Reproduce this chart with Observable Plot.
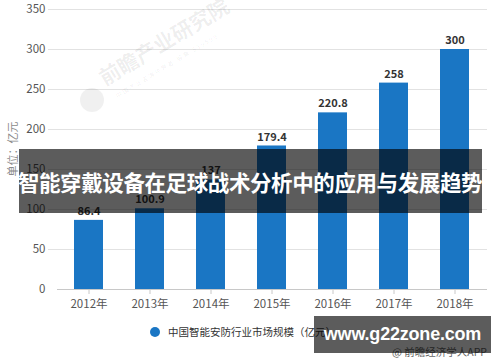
<!DOCTYPE html>
<html>
<head>
<meta charset="utf-8">
<script src="https://cdn.jsdelivr.net/npm/d3@7"></script>
<script src="https://cdn.jsdelivr.net/npm/@observablehq/plot@0.6"></script>
<style>
  html, body { margin: 0; padding: 0; background: #fff; }
  #wrap { position: relative; width: 500px; height: 362px; overflow: hidden; font-family: "Noto Sans CJK SC", "Noto Sans", sans-serif; }
  #chart svg { display: block; }
  .ylab { position: absolute; left: 12px; top: 149px; transform: translate(-50%, -50%) rotate(-90deg); font-size: 11px; color: #8a8a8a; white-space: nowrap; }
  .legend { position: absolute; left: 150px; top: 324px; font-size: 10.5px; color: #333; display: flex; align-items: center; white-space: nowrap; }
  .legend .dot { width: 10px; height: 10px; border-radius: 50%; background: #1a76c4; margin-right: 8px; }
  .band { position: absolute; left: 19px; top: 149px; width: 463px; height: 64px; background: rgba(0,0,0,0.64); }
  .title { position: absolute; left: 0; width: 500px; top: 167px; text-align: center; color: #fff; font-weight: bold; font-size: 21.5px; line-height: 30px; white-space: nowrap; letter-spacing: -0.4px; }
  .src { position: absolute; left: 392px; top: 344px; font-size: 10.5px; color: #666; white-space: nowrap; }
  .wm { position: absolute; left: 314px; top: 316px; width: 177px; height: 37px; background: rgba(0,0,0,0.64); color: #fff; font-weight: bold; font-size: 18px; line-height: 37px; text-align: center; font-family: "Liberation Sans", Arial, sans-serif; letter-spacing: -0.2px; }
  .logo { position: absolute; left: 106px; top: 66px; transform: rotate(-31deg); transform-origin: left bottom; font-size: 21px; font-weight: bold; color: rgba(0,0,0,0.07); white-space: nowrap; line-height: 22px; }
  .logo2 { position: absolute; left: 118px; top: 92px; transform: rotate(-31deg); transform-origin: left bottom; font-size: 6px; color: rgba(0,0,0,0.07); white-space: nowrap; line-height: 7px; letter-spacing: 1.5px; }
  .logodot { position: absolute; left: 80px; top: 88px; width: 24px; height: 24px; border-radius: 50%; background: rgba(0,0,0,0.06); }
</style>
</head>
<body>
<div id="wrap">
  <div id="chart"></div>
  <div class="logodot"></div>
  <div class="logo">前瞻产业研究院</div>
  <div class="logo2">中国产业咨询领导者(股票:839599)</div>
  <div class="ylab">单位：亿元</div>
  <div class="legend"><span class="dot"></span><span id="legtext"></span></div>
  <div class="band"></div>
  <div class="title" id="title"></div>
  <div class="src">@ 前瞻经济学人APP</div>
  <div class="wm">www.g22zone.com</div>
</div>
<script>
const years = ["2012年", "2013年", "2014年", "2015年", "2016年", "2017年", "2018年"];
const values = [86.4, 100.9, 137, 179.4, 220.8, 258, 300];
const labels = ["86.4", "100.9", "137", "179.4", "220.8", "258", "300"];
const yTicks = [0, 50, 100, 150, 200, 250, 300, 350];
const seriesName = "中国智能安防行业市场规模（亿元）";
const titleText = "智能穿戴设备在足球战术分析中的应用与发展趋势";

const data = years.map((y, i) => ({ year: y, value: values[i], label: labels[i] }));

document.getElementById("legtext").textContent = seriesName;
document.getElementById("title").textContent = titleText;

const chart = Plot.plot({
  width: 500,
  height: 362,
  marginTop: 9,
  marginBottom: 73,
  marginLeft: 57,
  marginRight: 15,
  style: { fontFamily: "Noto Sans CJK SC, Noto Sans, sans-serif", fontSize: "11px", color: "#555", background: "transparent" },
  x: { domain: years, paddingInner: 0.53, paddingOuter: 0.265, label: null },
  y: { domain: [0, 350], ticks: yTicks, label: null },
  marks: [
    Plot.ruleY(yTicks.filter(d => d > 0), { stroke: "#e2e2e2", strokeWidth: 1, insetLeft: -9, insetRight: -2 }),
    Plot.barY(data, { x: "year", y: "value", fill: "#1a76c4" }),
    Plot.ruleY([0], { stroke: "#c8c8c8", strokeWidth: 1.2, insetRight: -2 }),
    Plot.text(data, { x: "year", y: "value", text: "label", dy: -9, fill: "#333", fontWeight: "bold", fontSize: 11 }),
    Plot.axisX({ tickSize: 5, tickPadding: 5, stroke: "#c8c8c8", fill: "#555", fontSize: 11.5, label: null }),
    Plot.axisY({ ticks: yTicks, tickSize: 0, tickPadding: 12, fill: "#555", fontSize: 11.5, label: null })
  ]
});
document.getElementById("chart").appendChild(chart);
</script>
</body>
</html>
